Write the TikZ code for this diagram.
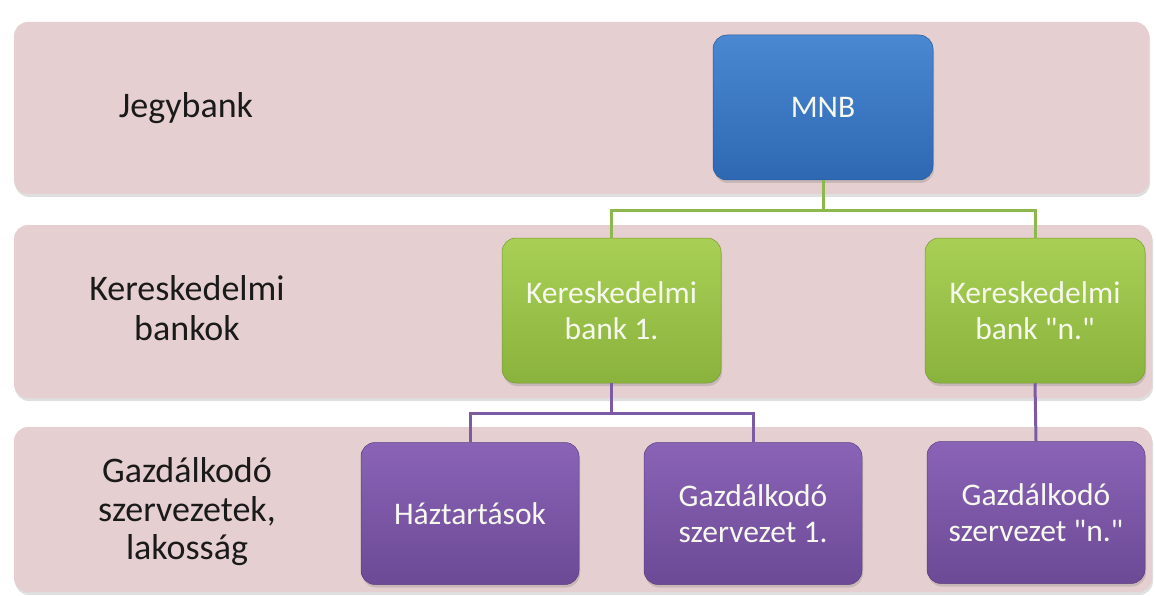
\documentclass[tikz,border=0pt]{standalone}
\usepackage{fontspec}
\setmainfont{Carlito}[Ligatures=TeXOff]
\usetikzlibrary{shadows}
\definecolor{bandfill}{HTML}{E6CFD0}
\definecolor{bluetop}{HTML}{4A88D2}
\definecolor{bluebot}{HTML}{2E68B3}
\definecolor{greentop}{HTML}{A9CF55}
\definecolor{greenbot}{HTML}{8AB33D}
\definecolor{purptop}{HTML}{8A63B6}
\definecolor{purpbot}{HTML}{6C4A96}
\definecolor{gline}{HTML}{8DB84C}
\definecolor{pline}{HTML}{7C5BA4}
\definecolor{labeltext}{HTML}{1A1A1A}
\definecolor{boxtext}{HTML}{F6F8EE}
\tikzset{
  bandbox/.style={fill=bandfill, rounded corners=14pt,
    drop shadow={shadow xshift=1pt, shadow yshift=-3pt, opacity=0.25}},
  boxbase/.style={rectangle, rounded corners=14pt, minimum width=219pt, minimum height=145pt,
    align=center, text=boxtext, font=\fontsize{31.5}{36}\selectfont, inner sep=0pt,
    drop shadow={shadow xshift=1pt, shadow yshift=-3pt, opacity=0.3}},
  bluebox/.style={boxbase, top color=bluetop, bottom color=bluebot, draw=bluebot!85!black, line width=0.5pt},
  greenbox/.style={boxbase, top color=greentop, bottom color=greenbot, draw=greenbot!85!black, line width=0.5pt},
  purplebox/.style={boxbase, minimum height=142pt, top color=purptop, bottom color=purpbot, draw=purpbot!85!black, line width=0.5pt},
  rowlabel/.style={align=center, text=labeltext, inner sep=0pt},
  gconn/.style={draw=gline, line width=3pt},
  pconn/.style={draw=pline, line width=3pt}
}
\begin{document}
\begin{tikzpicture}[x=1pt,y=-1pt]
\useasboundingbox (0,0) rectangle (1156,596);
\fill[white] (0,0) rectangle (1156,596);
% bands
\path[bandbox] (14,22) rectangle (1149,194);
\path[bandbox] (14,225) rectangle (1152,398);
\path[bandbox] (14,427) rectangle (1152,592);
% row labels
\node[rowlabel, font=\fontsize{36}{40}\selectfont, anchor=base] (ljegy) at (186,118) {Jegybank};
\node[rowlabel, font=\fontsize{36}{40}\selectfont] (lker) at (187,308) {Kereskedelmi\\bankok};
\node[rowlabel, font=\fontsize{36}{38.5}\selectfont] (lgazd) at (187,512) {Gazdálkodó\\szervezetek,\\lakosság};
\coordinate (gj) at (823,211);
\coordinate (pj) at (611.5,413);
% boxes
\node[bluebox, minimum width=220pt] (mnb) at (823,107.5) {MNB};
\node[greenbox] (g1) at (611.5,310.5) {Kereskedelmi\\bank 1.};
\node[greenbox, minimum width=220pt] (gn) at (1035,310.5) {Kereskedelmi\\bank "n."};
\node[purplebox, minimum width=218pt] (p1) at (470,513.5) {Háztartások};
\node[purplebox, minimum width=218pt] (p2) at (753,513.5) {Gazdálkodó\\szervezet 1.};
\node[purplebox, minimum width=218pt] (pn) at (1036,512.5) {Gazdálkodó\\szervezet "n."};
% connectors
\draw[gconn] (mnb.south) -- (gj);
\draw[gconn] (gj) -| (g1.north);
\draw[gconn] (gj) -| (gn.north);
\draw[pconn] (g1.south) -- (pj);
\draw[pconn] (pj) -| (p1.north);
\draw[pconn] (pj) -| (p2.north);
\draw[pconn] (gn.south) -- (pn.north);
\end{tikzpicture}
\end{document}
